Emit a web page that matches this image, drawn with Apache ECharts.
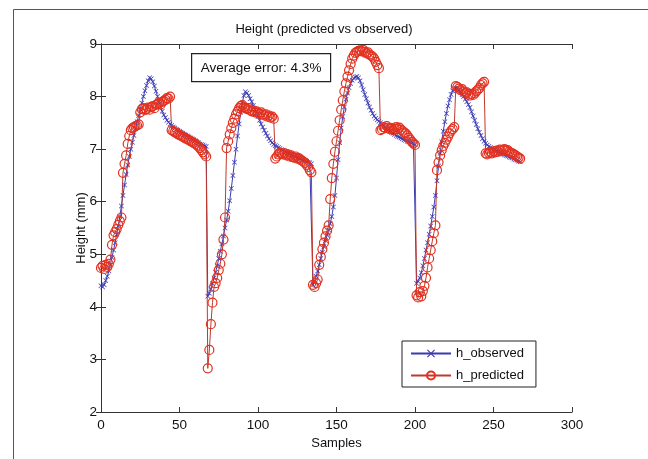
<!DOCTYPE html>
<html>
<head>
<meta charset="utf-8">
<script src="https://cdn.jsdelivr.net/npm/echarts@6/dist/echarts.min.js"></script>
<style>
  html, body { margin: 0; padding: 0; background: #fff; }
  #heightchart { width: 648px; height: 459px; }
</style>
</head>
<body>
<div id="heightchart"></div>
<script>
// sample index = position in the array (0 .. 267)
// h_observed, four cycles
var observed = [
  4.40, 4.38, 4.42, 4.50, 4.58, 4.68, 4.80, 4.94, 5.08, 5.22,
  5.38, 5.54, 5.72, 5.92, 6.12, 6.32, 6.52, 6.70, 6.86, 7.00,
  7.13, 7.26, 7.39, 7.52, 7.64, 7.76, 7.88, 8.00, 8.11, 8.21,
  8.30, 8.36, 8.34, 8.28, 8.20, 8.10, 8.00, 7.90, 7.80, 7.72,
  7.65, 7.60, 7.55, 7.51, 7.48, 7.45, 7.42, 7.40, 7.38, 7.36,
  7.34, 7.32, 7.30, 7.28, 7.27, 7.25, 7.23, 7.21, 7.20, 7.18,
  7.16, 7.14, 7.12, 7.10, 7.09, 7.08, 7.06, 7.05,
  4.20, 4.26,
  4.34, 4.44, 4.55, 4.66, 4.78, 4.92, 5.06, 5.20, 5.35, 5.50,
  5.65, 5.82, 6.02, 6.25, 6.50, 6.75, 7.00, 7.25, 7.48, 7.70,
  7.88, 8.02, 8.09, 8.07, 8.02, 7.96, 7.90, 7.83, 7.76, 7.69,
  7.62, 7.55, 7.48, 7.42, 7.36, 7.30, 7.25, 7.20, 7.16, 7.12,
  7.09, 7.07, 7.05, 7.03, 7.01, 6.99, 6.98, 6.96, 6.95, 6.93,
  6.92, 6.90, 6.89, 6.87, 6.86, 6.84, 6.83, 6.82, 6.80, 6.79,
  6.78, 6.77, 6.75, 6.74, 6.72,
  4.42, 4.48, 4.58, 4.68, 4.80,
  4.92, 5.04, 5.15, 5.26, 5.36, 5.46, 5.58, 5.72, 5.90, 6.12,
  6.45, 6.80, 7.12, 7.40, 7.62, 7.80, 7.95, 8.07, 8.17, 8.25,
  8.31, 8.35, 8.37, 8.38, 8.36, 8.30, 8.22, 8.13, 8.04, 7.96,
  7.88, 7.80, 7.74, 7.68, 7.63, 7.59, 7.56, 7.53, 7.50, 7.47,
  7.44, 7.42, 7.39, 7.37, 7.34, 7.32, 7.30, 7.28, 7.26, 7.24,
  7.23, 7.21, 7.20, 7.18, 7.17, 7.15, 7.14, 7.13, 7.12, 7.10,
  7.09,
  4.45, 4.48, 4.55, 4.65, 4.78, 4.92, 5.08, 5.22, 5.38,
  5.54, 5.72, 5.90, 6.12, 6.40, 6.68, 6.92, 7.14, 7.34, 7.52,
  7.68, 7.82, 7.94, 8.04, 8.11, 8.15, 8.16, 8.15, 8.12, 8.08,
  8.04, 8.00, 7.95, 7.90, 7.85, 7.79, 7.71, 7.63, 7.55, 7.47,
  7.39, 7.32, 7.26, 7.20, 7.15, 7.11, 7.08, 7.05, 7.03, 7.01,
  6.99, 6.98, 6.96, 6.95, 6.93, 6.92, 6.91, 6.89, 6.88, 6.87,
  6.85, 6.84, 6.83, 6.81, 6.80, 6.79, 6.77, 6.76
];

// h_predicted
var predicted = [
  4.74, 4.78, 4.72, 4.80, 4.76, 4.82, 4.90, 5.18, 5.36, 5.42,
  5.48, 5.56, 5.63, 5.70, 6.55, 6.72, 6.88, 7.10, 7.25, 7.36,
  7.40, 7.42, 7.44, 7.45, 7.47, 7.70, 7.76, 7.78, 7.74, 7.76,
  7.79, 7.75, 7.80, 7.82, 7.78, 7.84, 7.86, 7.88, 7.85, 7.90,
  7.92, 7.94, 7.97, 7.96, 8.00, 7.36, 7.34, 7.32, 7.31, 7.28,
  7.27, 7.25, 7.24, 7.22, 7.20, 7.19, 7.17, 7.15, 7.14, 7.12,
  7.10, 7.08, 7.05, 7.02, 6.98, 6.94, 6.90, 6.86,
  2.83, 3.18,
  3.67, 4.08, 4.38, 4.45, 4.55, 4.70, 4.82, 5.00, 5.28, 5.70,
  7.02, 7.15, 7.28, 7.40, 7.50, 7.58, 7.66, 7.72, 7.78, 7.82,
  7.84, 7.80, 7.78, 7.76, 7.78, 7.74, 7.72, 7.74, 7.70, 7.72,
  7.69, 7.67, 7.70, 7.66, 7.64, 7.66, 7.62, 7.64, 7.60, 7.62,
  7.58, 6.82, 6.86, 6.90, 6.93, 6.92, 6.90, 6.92, 6.88, 6.90,
  6.86, 6.88, 6.85, 6.84, 6.86, 6.82, 6.83, 6.80, 6.78, 6.76,
  6.74, 6.70, 6.66, 6.60, 6.56,
  4.42, 4.38, 4.45, 4.52, 4.80,
  4.95, 5.10, 5.22, 5.34, 5.45, 5.55, 6.05, 6.45, 6.72, 6.95,
  7.15, 7.35, 7.55, 7.75, 7.93, 8.10, 8.25, 8.38, 8.50, 8.62,
  8.72, 8.78, 8.83, 8.85, 8.87, 8.88, 8.86, 8.89, 8.85, 8.82,
  8.84, 8.80, 8.78, 8.76, 8.72, 8.66, 8.60, 8.54, 7.36, 7.38,
  7.42, 7.40, 7.44, 7.41, 7.38, 7.40, 7.36, 7.39, 7.42, 7.38,
  7.41, 7.37, 7.35, 7.32, 7.30, 7.26, 7.22, 7.18, 7.14, 7.11,
  7.08,
  4.22, 4.18, 4.28, 4.20, 4.30, 4.40, 4.55, 4.75, 4.92,
  5.08, 5.25, 5.40, 5.55, 6.60, 6.75, 6.88, 6.98, 7.06, 7.12,
  7.18, 7.24, 7.30, 7.35, 7.38, 7.42, 8.20, 8.18, 8.15, 8.12,
  8.14, 8.10, 8.06, 8.08, 8.04, 8.02, 8.05, 8.03, 8.06, 8.10,
  8.13, 8.16, 8.22, 8.25, 8.28, 6.92, 6.90, 6.93, 6.95, 6.92,
  6.96, 6.94, 6.97, 6.95, 6.99, 6.96, 6.98, 7.00, 6.97, 6.98,
  6.95, 6.93, 6.92, 6.90, 6.88, 6.86, 6.84, 6.82
];

var xTicks = [0, 50, 100, 150, 200, 250, 300];
var yTicks = [2, 3, 4, 5, 6, 7, 8, 9];
var avgError = 'Average error: 4.3%';

function toPairs(arr) {
  return arr.map(function (v, i) { return [i, v]; });
}

var FONT = '"Liberation Sans", Arial, sans-serif';
var axisColor = '#333';
// matlab style 'x' marker
var xMark = 'path://M0,1L1,0L5,4L9,0L10,1L6,5L10,9L9,10L5,6L1,10L0,9L4,5Z';

var myChart = echarts.init(document.getElementById('heightchart'));

var boxAxis = {
  axisLine: { show: true, lineStyle: { color: axisColor, width: 1 } },
  axisTick: { show: true, inside: true, length: 5, lineStyle: { color: axisColor } },
  splitLine: { show: false }
};

var option = {
  backgroundColor: '#fff',
  animation: false,
  title: {
    text: 'Height (predicted vs observed)',
    left: 'center',
    top: 18,
    textStyle: { fontFamily: FONT, fontSize: 13, fontWeight: 'normal', color: '#111' }
  },
  grid: {
    left: 101,
    top: 44,
    width: 471,
    height: 368,
    outerBoundsMode: 'none'
  },
  legend: {
    left: 402,
    top: 341,
    orient: 'vertical',
    backgroundColor: '#fff',
    borderColor: '#222',
    borderWidth: 1,
    borderRadius: 0,
    padding: [6, 12, 5, 8],
    itemWidth: 40,
    itemHeight: 10,
    itemGap: 9,
    textStyle: { fontFamily: FONT, fontSize: 13, color: '#111' },
    data: ['h_observed', 'h_predicted']
  },
  xAxis: [
    Object.assign({
      type: 'value',
      min: xTicks[0],
      max: xTicks[xTicks.length - 1],
      interval: 50,
      position: 'bottom',
      name: 'Samples',
      nameLocation: 'middle',
      nameGap: 21,
      nameTextStyle: { fontFamily: FONT, fontSize: 13, color: '#111' },
      axisLabel: { fontFamily: FONT, fontSize: 13.5, color: '#111', margin: 6 }
    }, boxAxis),
    Object.assign({
      type: 'value',
      min: xTicks[0],
      max: xTicks[xTicks.length - 1],
      interval: 50,
      position: 'top',
      axisLabel: { show: false }
    }, boxAxis)
  ],
  yAxis: [
    Object.assign({
      type: 'value',
      min: yTicks[0],
      max: yTicks[yTicks.length - 1],
      interval: 1,
      position: 'left',
      name: 'Height (mm)',
      nameLocation: 'middle',
      nameGap: 13,
      nameMoveOverlap: false,
      nameTextStyle: { fontFamily: FONT, fontSize: 13, color: '#111' },
      axisLabel: { fontFamily: FONT, fontSize: 13.5, color: '#111', margin: 4 }
    }, boxAxis),
    Object.assign({
      type: 'value',
      min: yTicks[0],
      max: yTicks[yTicks.length - 1],
      interval: 1,
      position: 'right',
      axisLabel: { show: false }
    }, boxAxis)
  ],
  graphic: [
    // outer figure border (only left/top show in the crop)
    {
      type: 'rect',
      shape: { x: 13.5, y: 9.5, width: 700, height: 500 },
      style: { fill: 'none', stroke: '#555', lineWidth: 1 },
      silent: true
    },
    {
      type: 'group',
      left: 191,
      top: 53,
      children: [
        {
          type: 'rect',
          shape: { x: 0.5, y: 0.5, width: 139, height: 28 },
          style: { fill: '#fff', stroke: '#222', lineWidth: 1.2 }
        },
        {
          type: 'text',
          x: 70,
          y: 15,
          style: {
            text: avgError,
            fontFamily: FONT,
            fontSize: 13.5,
            fill: '#111',
            align: 'center',
            verticalAlign: 'middle'
          }
        }
      ]
    }
  ],
  series: [
    {
      name: 'h_observed',
      type: 'line',
      xAxisIndex: 0,
      yAxisIndex: 0,
      symbol: xMark,
      symbolSize: 5,
      showAllSymbol: true,
      itemStyle: { color: '#3a3ab4' },
      lineStyle: { color: '#3a3ab4', width: 1 },
      data: toPairs(observed)
    },
    {
      name: 'h_predicted',
      type: 'line',
      xAxisIndex: 0,
      yAxisIndex: 0,
      symbol: 'circle',
      symbolSize: 9,
      showAllSymbol: true,
      itemStyle: { color: 'rgba(255,255,255,0)', borderColor: '#e3301f', borderWidth: 1.2 },
      lineStyle: { color: '#c0392b', width: 1 },
      data: toPairs(predicted)
    }
  ]
};

myChart.setOption(option);
</script>
</body>
</html>
